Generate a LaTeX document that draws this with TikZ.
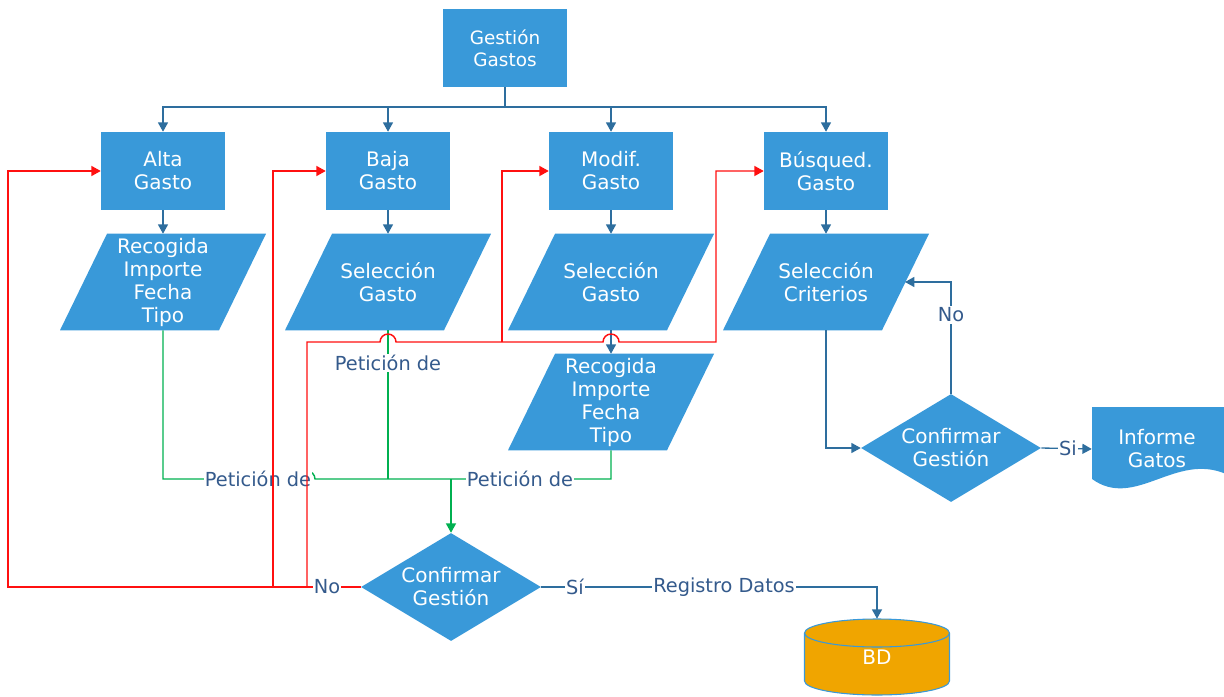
\documentclass[tikz,border=0pt]{standalone}
\usepackage{fontspec}
\setmainfont{DejaVu Sans}
\usetikzlibrary{shapes.geometric,arrows.meta,backgrounds}
\definecolor{boxblue}{RGB}{57,153,217}
\definecolor{lineblue}{RGB}{46,110,158}
\definecolor{labelblue}{RGB}{52,90,140}
\definecolor{flowred}{RGB}{255,16,16}
\definecolor{flowgreen}{RGB}{0,176,80}
\definecolor{dborange}{RGB}{240,165,0}
\begin{document}
\begin{tikzpicture}[x=0.75pt,y=-0.75pt,
  >={Triangle[length=7pt,width=7.5pt]},
  txt/.style={font=\fontsize{15}{17.25}\selectfont},
  proc/.style={rectangle, fill=boxblue, text=white, minimum width=93pt,
    minimum height=58.5pt, inner sep=0pt, align=center, txt},
  topbox/.style={proc, font=\fontsize{13.8}{16.5}\selectfont},
  iotext/.style={rectangle, text=white, minimum width=84pt, minimum height=72pt,
    inner sep=0pt, align=center, txt},
  decision/.style={diamond, aspect=1.667, fill=boxblue, text=white,
    minimum width=135pt, minimum height=81pt, inner sep=0pt, align=center, txt},
  doctext/.style={rectangle, text=white, minimum width=97.5pt, minimum height=54pt,
    inner sep=0pt, align=center, txt},
  dbtext/.style={rectangle, text=white, minimum width=108.75pt, minimum height=57pt,
    inner sep=0pt, txt},
  conn/.style={draw=lineblue, line width=1pt},
  rline/.style={draw=flowred, line width=1.1pt},
  gline/.style={draw=flowgreen, line width=1.1pt},
  flabel/.style={fill=white, text=labelblue, inner sep=1pt,
    font=\fontsize{14.5}{16}\selectfont}]
\useasboundingbox (0,0) rectangle (1224,696);

% --- process boxes
\node[topbox] (gest) at (505,48) {Gestión\\Gastos};
\node[proc] (alta)  at (163,171) {Alta\\Gasto};
\node[proc] (baja)  at (388,171) {Baja\\Gasto};
\node[proc] (modif) at (611,171) {Modif.\\Gasto};
\node[proc] (busq)  at (826,171) {Búsqued.\\Gasto};

% --- input / output steps
\node[iotext] (s1) at (163,282) {Recogida\\Importe\\Fecha\\Tipo};
\node[iotext] (s2) at (388,282) {Selección\\Gasto};
\node[iotext] (s3) at (611,282) {Selección\\Gasto};
\node[iotext] (s4) at (826,282) {Selección\\Criterios};
\node[iotext] (r3) at (611,402) {Recogida\\Importe\\Fecha\\Tipo};

% --- decisions, report, database
\node[decision] (cg) at (451,587) {Confirmar\\Gestión};
\node[decision] (cb) at (951,448) {Confirmar\\Gestión};
\node[doctext] (inf) at (1157,449) {Informe\\Gatos};
\node[dbtext] (bd) at (877,657) {BD};

\begin{scope}[on background layer]
  \foreach \n in {s1,s2,s3,s4,r3}
    \fill[boxblue] ([xshift=-77.25pt]\n.south) -- ([xshift=42pt]\n.south)
      -- ([xshift=77.25pt]\n.north) -- ([xshift=-42pt]\n.north) -- cycle;
  % document shape with wavy bottom
  \fill[boxblue] (1092,407) -- (1226,407) -- (1226,474)
    .. controls (1175,452) and (1135,510) .. (1092,479) -- cycle;
  % database cylinder
  \filldraw[fill=dborange, draw=boxblue, line width=0.8pt]
    ([shift={(-54.375pt,18pt)}]bd.center) -- ([shift={(-54.375pt,-18pt)}]bd.center)
    arc[start angle=180, end angle=360, x radius=54.375pt, y radius=10.5pt]
    -- ([shift={(54.375pt,18pt)}]bd.center)
    arc[start angle=0, end angle=180, x radius=54.375pt, y radius=10.5pt] -- cycle;
  \draw[boxblue, line width=0.8pt] ([shift={(-54.375pt,18pt)}]bd.center)
    arc[start angle=180, end angle=360, x radius=54.375pt, y radius=10.5pt];
\end{scope}

% --- blue connectors
\coordinate (busy) at (505,107);
\draw[conn] (gest.south) -- (busy);
\foreach \n in {alta,baja,modif,busq}
  \draw[conn,->] (busy) -| (\n.north);
\draw[conn,->] (alta.south) -- (s1.north);
\draw[conn,->] (baja.south) -- (s2.north);
\draw[conn,->] (modif.south) -- (s3.north);
\draw[conn,->] (busq.south) -- (s4.north);
\draw[conn,->] (s3.south) -- (r3.north);
\draw[conn,->] (s4.south) |- (cb.west);
\coordinate (s4r) at ([xshift=59.25pt]s4.center);
\draw[conn,->] (cb.north) |- (s4r);
\draw[conn,->] (cb.east) -- (inf.west);
\draw[conn,->] (cg.east) -| (bd.north);

% --- green request lines
\coordinate (gj) at (451,479);
\coordinate (redA) at (8,587);
\coordinate (redB) at (273,587);
\coordinate (redC) at (307,587);
\coordinate (redH) at (307,342);
\coordinate (redM) at (502,342);
\coordinate (redR) at (716,342);
\draw[gline] (s1.south) |- ([xshift=-6pt]redC |- gj)
  arc[start angle=180, end angle=0, radius=6pt] -- (r3.south |- gj) -- (r3.south);
\draw[gline] (s2.south) -- (s2.south |- gj);
\draw[gline,->] (gj) -- (cg.north);
\node[flabel] (p1) at (258,479) {Petición de};
\node[flabel] (p2) at (388,363) {Petición de};
\node[flabel] (p3) at (520,479) {Petición de};

% --- red return lines
\draw[rline,->] (cg.west) -- (redA) |- (alta.west);
\draw[rline,->] (redB) |- (baja.west);
\draw[rline,->] (redC) -- (redH) -- ([xshift=-6pt]s2.south |- redH)
  arc[start angle=180, end angle=0, radius=6pt] -- ([xshift=-6pt]s3.south |- redH)
  arc[start angle=180, end angle=0, radius=6pt] -- (redR) |- (busq.west);
\draw[rline,->] (redM) |- (modif.west);

% --- connector labels
\node[flabel] (lno1) at (327,587) {No};
\node[flabel] (lsi1) at (575,587) {Sí};
\node[flabel] (lreg) at (724,587) {Registro Datos};
\node[flabel] (lno2) at (951,315) {No};
\node[flabel] (lsi2) at (1068,448) {Si};
\end{tikzpicture}
\end{document}
